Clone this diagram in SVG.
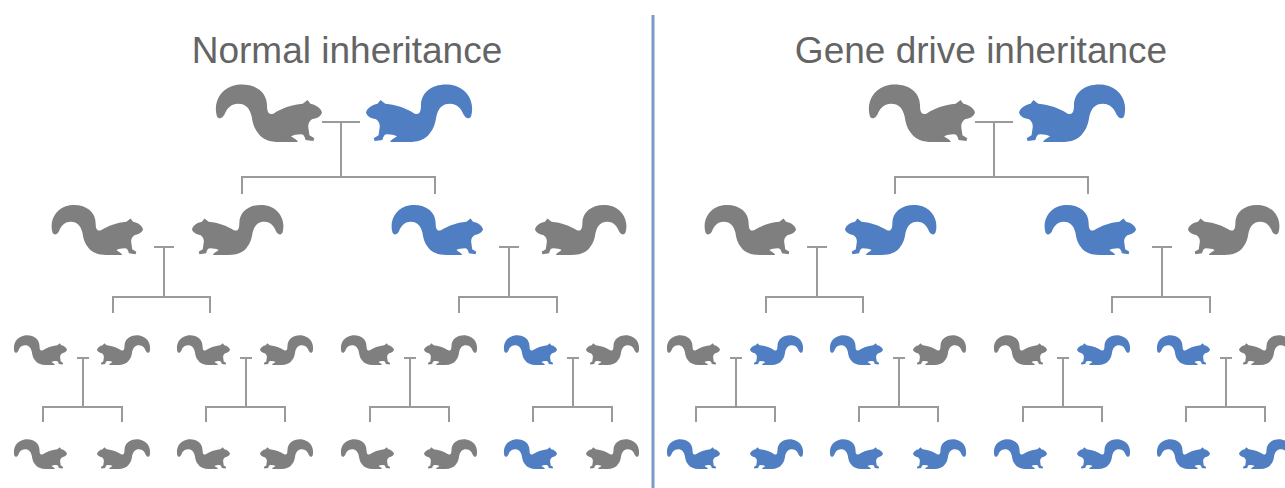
<svg xmlns="http://www.w3.org/2000/svg" xmlns:xlink="http://www.w3.org/1999/xlink" width="1285" height="488" viewBox="0 0 1285 488">
  <style>
    .title { font-family: "Liberation Sans", Arial, sans-serif; font-size: 37px; fill: #646464; text-anchor: middle; }
    .g { fill: #7f7f7f; }
    .b { fill: #4f7ec2; }
    .link { fill: none; stroke: #9a9a9a; stroke-width: 2; }
    .divider { stroke: #7a9cc8; stroke-width: 3; }
  </style>
  <defs>
    <!-- squirrel silhouette, facing right, tail on the left -->
    <path id="sqShape" d="M 3 38 C -1 24, 6 8, 24 5 C 42 3, 55 12, 55 27 C 55 34, 57 37, 62 35 C 70 30, 80 26, 92 25 L 97 21 L 100 25 C 106 26, 111 30, 112 34 C 111 38, 107 40, 102 41 C 99 43, 97 46, 98 51 L 99 58 L 104 61 L 103 64 L 95 63 C 94 59, 93 57, 90 57 C 86 57, 82 58, 80 59 C 82 61, 86 62, 87 65 L 68 65 C 58 65, 50 62, 46 56 C 41 50, 40 44, 39 38 C 37 30, 33 25, 25 25 C 17 25, 13 31, 11 36 C 9 40, 5 42, 3 38 Z"/>
    <symbol id="sqR" viewBox="0 0 112 65" preserveAspectRatio="none">
      <use href="#sqShape"/>
    </symbol>
    <symbol id="sqL" viewBox="0 0 112 65" preserveAspectRatio="none">
      <use href="#sqShape" transform="translate(112 0) scale(-1 1)"/>
    </symbol>
  </defs>

  <rect width="1285" height="488" fill="#ffffff"/>

  <!-- panel titles -->
  <text class="title" x="347" y="63">Normal inheritance</text>
  <text class="title" x="981" y="63">Gene drive inheritance</text>

  <!-- panel divider -->
  <line class="divider" x1="653" y1="15" x2="653" y2="488"/>

  <!-- pedigree connectors -->
  <g id="connectors" class="link">
    <!-- normal inheritance -->
    <path d="M322,122 H360 M341,122 V177 M242,194 V177 H435 V194"/>
    <path d="M154,247 H174 M164,247 V297 M113,313 V297 H210 V313"/>
    <path d="M499,247 H519 M509,247 V297 M459,313 V297 H557 V313"/>
    <path d="M77,358 H89 M83,358 V407 M43,422 V407 H122 V422"/>
    <path d="M240,358 H252 M246,358 V407 M206,422 V407 H285 V422"/>
    <path d="M404,358 H416 M410,358 V407 M370,422 V407 H449 V422"/>
    <path d="M567,358 H579 M573,358 V407 M533,422 V407 H612 V422"/>
    <!-- gene drive inheritance -->
    <path d="M975,122 H1013 M994,122 V177 M895,194 V177 H1088 V194"/>
    <path d="M807,247 H827 M817,247 V297 M766,313 V297 H863 V313"/>
    <path d="M1152,247 H1172 M1162,247 V297 M1112,313 V297 H1210 V313"/>
    <path d="M730,358 H742 M736,358 V407 M696,422 V407 H775 V422"/>
    <path d="M893,358 H905 M899,358 V407 M859,422 V407 H938 V422"/>
    <path d="M1057,358 H1069 M1063,358 V407 M1023,422 V407 H1102 V422"/>
    <path d="M1220,358 H1232 M1226,358 V407 M1186,422 V407 H1265 V422"/>
  </g>

  <!-- normal inheritance: parents -->
  <g id="n-p1"><use href="#sqR" class="g" x="214" y="80" width="108" height="62"/></g>
  <g id="n-p2"><use href="#sqL" class="b" x="366" y="80" width="108" height="62"/></g>
  <!-- normal inheritance: generation 2 -->
  <g id="n-g2-1"><use href="#sqR" class="g" x="50" y="201" width="93" height="54"/></g>
  <g id="n-g2-2"><use href="#sqL" class="g" x="192" y="201" width="93" height="54"/></g>
  <g id="n-g2-3"><use href="#sqR" class="b" x="390" y="201" width="93" height="54"/></g>
  <g id="n-g2-4"><use href="#sqL" class="g" x="535" y="201" width="93" height="54"/></g>
  <!-- normal inheritance: generation 3 -->
  <g id="n-g3-1"><use href="#sqR" class="g" x="13" y="333" width="54" height="32"/></g>
  <g id="n-g3-2"><use href="#sqL" class="g" x="97" y="333" width="54" height="32"/></g>
  <g id="n-g3-3"><use href="#sqR" class="g" x="176" y="333" width="54" height="32"/></g>
  <g id="n-g3-4"><use href="#sqL" class="g" x="260" y="333" width="54" height="32"/></g>
  <g id="n-g3-5"><use href="#sqR" class="g" x="340" y="333" width="54" height="32"/></g>
  <g id="n-g3-6"><use href="#sqL" class="g" x="424" y="333" width="54" height="32"/></g>
  <g id="n-g3-7"><use href="#sqR" class="b" x="503" y="333" width="54" height="32"/></g>
  <g id="n-g3-8"><use href="#sqL" class="g" x="586" y="333" width="54" height="32"/></g>
  <!-- normal inheritance: generation 4 -->
  <g id="n-g4-1"><use href="#sqR" class="g" x="13" y="437" width="54" height="32"/></g>
  <g id="n-g4-2"><use href="#sqL" class="g" x="97" y="437" width="54" height="32"/></g>
  <g id="n-g4-3"><use href="#sqR" class="g" x="176" y="437" width="54" height="32"/></g>
  <g id="n-g4-4"><use href="#sqL" class="g" x="260" y="437" width="54" height="32"/></g>
  <g id="n-g4-5"><use href="#sqR" class="g" x="340" y="437" width="54" height="32"/></g>
  <g id="n-g4-6"><use href="#sqL" class="g" x="424" y="437" width="54" height="32"/></g>
  <g id="n-g4-7"><use href="#sqR" class="b" x="503" y="437" width="54" height="32"/></g>
  <g id="n-g4-8"><use href="#sqL" class="g" x="586" y="437" width="54" height="32"/></g>

  <!-- gene drive inheritance: parents -->
  <g id="d-p1"><use href="#sqR" class="g" x="867" y="80" width="108" height="62"/></g>
  <g id="d-p2"><use href="#sqL" class="b" x="1019" y="80" width="108" height="62"/></g>
  <!-- gene drive inheritance: generation 2 -->
  <g id="d-g2-1"><use href="#sqR" class="g" x="703" y="201" width="93" height="54"/></g>
  <g id="d-g2-2"><use href="#sqL" class="b" x="845" y="201" width="93" height="54"/></g>
  <g id="d-g2-3"><use href="#sqR" class="b" x="1043" y="201" width="93" height="54"/></g>
  <g id="d-g2-4"><use href="#sqL" class="g" x="1188" y="201" width="93" height="54"/></g>
  <!-- gene drive inheritance: generation 3 -->
  <g id="d-g3-1"><use href="#sqR" class="g" x="666" y="333" width="54" height="32"/></g>
  <g id="d-g3-2"><use href="#sqL" class="b" x="750" y="333" width="54" height="32"/></g>
  <g id="d-g3-3"><use href="#sqR" class="b" x="829" y="333" width="54" height="32"/></g>
  <g id="d-g3-4"><use href="#sqL" class="g" x="913" y="333" width="54" height="32"/></g>
  <g id="d-g3-5"><use href="#sqR" class="g" x="993" y="333" width="54" height="32"/></g>
  <g id="d-g3-6"><use href="#sqL" class="b" x="1077" y="333" width="54" height="32"/></g>
  <g id="d-g3-7"><use href="#sqR" class="b" x="1156" y="333" width="54" height="32"/></g>
  <g id="d-g3-8"><use href="#sqL" class="g" x="1239" y="333" width="54" height="32"/></g>
  <!-- gene drive inheritance: generation 4 -->
  <g id="d-g4-1"><use href="#sqR" class="b" x="666" y="437" width="54" height="32"/></g>
  <g id="d-g4-2"><use href="#sqL" class="b" x="750" y="437" width="54" height="32"/></g>
  <g id="d-g4-3"><use href="#sqR" class="b" x="829" y="437" width="54" height="32"/></g>
  <g id="d-g4-4"><use href="#sqL" class="b" x="913" y="437" width="54" height="32"/></g>
  <g id="d-g4-5"><use href="#sqR" class="b" x="993" y="437" width="54" height="32"/></g>
  <g id="d-g4-6"><use href="#sqL" class="b" x="1077" y="437" width="54" height="32"/></g>
  <g id="d-g4-7"><use href="#sqR" class="b" x="1156" y="437" width="54" height="32"/></g>
  <g id="d-g4-8"><use href="#sqL" class="b" x="1239" y="437" width="54" height="32"/></g>
</svg>
